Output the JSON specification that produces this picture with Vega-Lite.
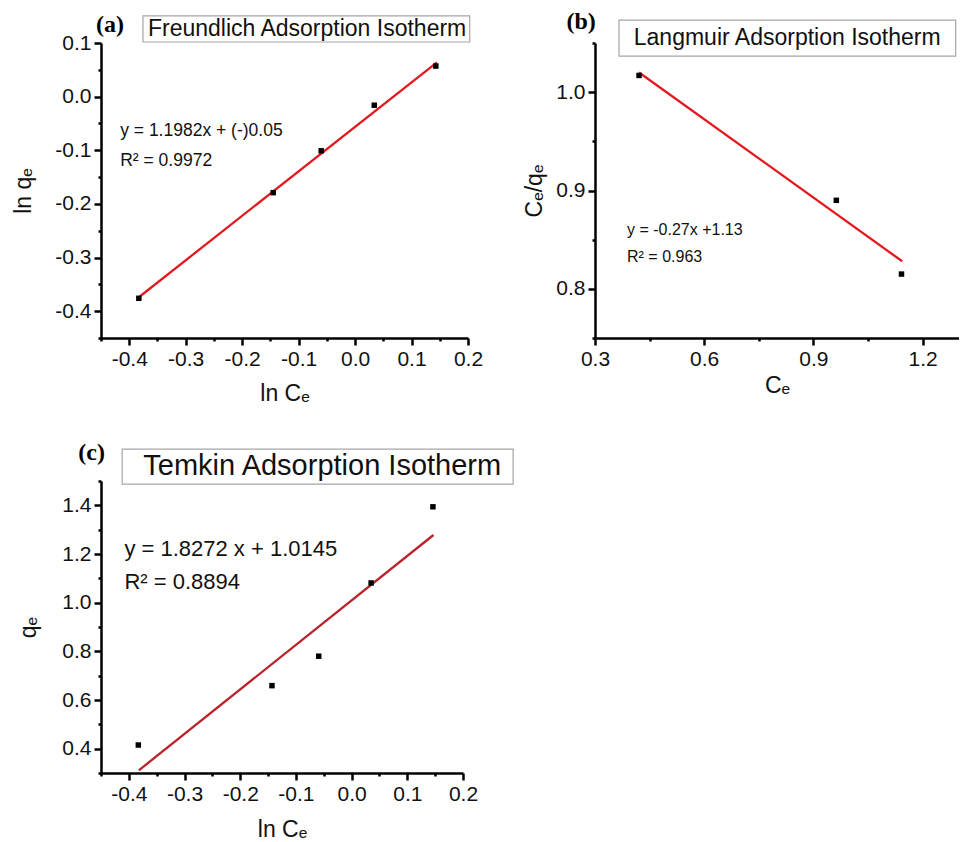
{
  "$schema": "https://vega.github.io/schema/vega-lite/v6.json",
  "background": "white",
  "padding": {"left": 12, "top": 10, "right": 0, "bottom": 0},
  "bounds": "flush",
  "columns": 2,
  "spacing": {"row": 143, "column": 127},
  "datasets": {
    "a_pts": [{"x": -0.383, "y": -0.376}, {"x": -0.145, "y": -0.179}, {"x": -0.06, "y": -0.101}, {"x": 0.034, "y": -0.016}, {"x": 0.143, "y": 0.057}],
    "a_fit": [{"x": -0.383, "y": -0.374}, {"x": 0.145, "y": 0.064}],
    "b_pts": [{"x": 0.421, "y": 1.017}, {"x": 0.963, "y": 0.89}, {"x": 1.142, "y": 0.815}],
    "b_fit": [{"x": 0.421, "y": 1.02}, {"x": 1.144, "y": 0.828}],
    "c_pts": [{"x": -0.383, "y": 0.415}, {"x": -0.143, "y": 0.659}, {"x": -0.059, "y": 0.78}, {"x": 0.035, "y": 1.081}, {"x": 0.146, "y": 1.394}],
    "c_fit": [{"x": -0.382, "y": 0.311}, {"x": 0.147, "y": 1.278}],
    "one": [{}]
  },
  "config": {
    "view": {"stroke": null},
    "axis": {
      "grid": false,
      "tickCount": 40,
      "domainColor": "#000",
      "domainWidth": 2.5,
      "tickColor": "#000",
      "tickWidth": 2.5,
      "labelFont": "Liberation Sans",
      "labelFontSize": 21,
      "labelColor": "#111",
      "labelPadding": 3,
      "labelOverlap": false,
      "labelFlush": false,
      "labelBound": false,
      "titleFont": "Liberation Sans",
      "titleFontSize": 23,
      "titleFontWeight": "normal",
      "titleColor": "#111"
    },
    "text": {"font": "Liberation Sans", "color": "#111"}
  },
  "concat": [
    {
      "width": 367,
      "height": 295,
      "layer": [
        {
          "data": {"name": "a_fit"},
          "mark": {"type": "line", "color": "#e3191f", "strokeWidth": 2.3},
          "encoding": {
            "x": {"field": "x", "type": "quantitative", "scale": {"domain": [-0.45, 0.2], "nice": false, "zero": false},
              "axis": {"title": "ln Cₑ", "titlePadding": 13, "tickCount": 40,
                "values": [-0.45, -0.4, -0.35, -0.3, -0.25, -0.2, -0.15, -0.1, -0.05, 0, 0.05, 0.1, 0.15, 0.2],
                "labelExpr": "abs(datum.value*10 - round(datum.value*10)) < 0.001 ? (datum.value < -0.001 ? '-' : '') + format(abs(datum.value), '.1f') : ''",
                "tickSize": {"condition": {"test": "abs(datum.value*10 - round(datum.value*10)) < 0.001", "value": 7}, "value": 3}}},
            "y": {"field": "y", "type": "quantitative", "scale": {"domain": [-0.45, 0.1], "nice": false, "zero": false},
              "axis": {"title": "ln qₑ", "titlePadding": 19, "tickCount": 40,
                "values": [-0.45, -0.4, -0.35, -0.3, -0.25, -0.2, -0.15, -0.1, -0.05, 0, 0.05, 0.1],
                "labelExpr": "abs(datum.value*10 - round(datum.value*10)) < 0.001 ? (datum.value < -0.001 ? '-' : '') + format(abs(datum.value), '.1f') : ''",
                "tickSize": {"condition": {"test": "abs(datum.value*10 - round(datum.value*10)) < 0.001", "value": 7}, "value": 3}}}
          }
        },
        {
          "data": {"name": "a_pts"},
          "mark": {"type": "square", "size": 30, "color": "#000", "opacity": 1},
          "encoding": {"x": {"field": "x", "type": "quantitative"}, "y": {"field": "y", "type": "quantitative"}}
        },
        {
          "data": {"name": "one"},
          "mark": {"type": "rect", "fill": "white", "fillOpacity": 0, "stroke": "#a6a6a6", "strokeWidth": 1.2},
          "encoding": {"x": {"datum": -0.3757, "type": "quantitative"}, "x2": {"datum": 0.2031}, "y": {"datum": 0.1504, "type": "quantitative"}, "y2": {"datum": 0.1019}}
        },
        {
          "data": {"name": "one"},
          "mark": {"type": "text", "text": "Freundlich Adsorption Isotherm", "fontSize": 23, "align": "center", "baseline": "middle"},
          "encoding": {"x": {"datum": -0.085, "type": "quantitative"}, "y": {"datum": 0.126, "type": "quantitative"}}
        },
        {
          "data": {"name": "one"},
          "mark": {"type": "text", "text": "(a)", "font": "Liberation Serif", "fontWeight": "bold", "fontSize": 24, "align": "center", "baseline": "middle", "color": "#000"},
          "encoding": {"x": {"datum": -0.434, "type": "quantitative"}, "y": {"datum": 0.1336, "type": "quantitative"}}
        },
        {
          "data": {"name": "one"},
          "mark": {"type": "text", "text": "y = 1.1982x + (-)0.05", "fontSize": 17.5, "align": "left", "baseline": "middle"},
          "encoding": {"x": {"datum": -0.416, "type": "quantitative"}, "y": {"datum": -0.0634, "type": "quantitative"}}
        },
        {
          "data": {"name": "one"},
          "mark": {"type": "text", "text": "R² = 0.9972", "fontSize": 17.5, "align": "left", "baseline": "middle"},
          "encoding": {"x": {"datum": -0.416, "type": "quantitative"}, "y": {"datum": -0.1194, "type": "quantitative"}}
        }
      ]
    },
    {
      "width": 364,
      "height": 295,
      "layer": [
        {
          "data": {"name": "b_fit"},
          "mark": {"type": "line", "color": "#e3191f", "strokeWidth": 2.3},
          "encoding": {
            "x": {"field": "x", "type": "quantitative", "scale": {"domain": [0.3, 1.3], "nice": false, "zero": false},
              "axis": {"title": "Cₑ", "titlePadding": 5, "tickCount": 40,
                "values": [0.3, 0.45, 0.6, 0.75, 0.9, 1.05, 1.2],
                "labelExpr": "abs(datum.value/0.3 - round(datum.value/0.3)) < 0.001 ? format(datum.value, '.1f') : ''",
                "tickSize": {"condition": {"test": "abs(datum.value/0.3 - round(datum.value/0.3)) < 0.001", "value": 7}, "value": 3}}},
            "y": {"field": "y", "type": "quantitative", "scale": {"domain": [0.75, 1.05], "nice": false, "zero": false},
              "axis": {"title": "Cₑ/qₑ", "titlePadding": 9, "tickCount": 40,
                "values": [0.75, 0.8, 0.85, 0.9, 0.95, 1.0, 1.05],
                "labelExpr": "abs(datum.value*10 - round(datum.value*10)) < 0.001 ? format(datum.value, '.1f') : ''",
                "tickSize": {"condition": {"test": "abs(datum.value*10 - round(datum.value*10)) < 0.001", "value": 7}, "value": 3}}}
          }
        },
        {
          "data": {"name": "b_pts"},
          "mark": {"type": "square", "size": 30, "color": "#000", "opacity": 1},
          "encoding": {"x": {"field": "x", "type": "quantitative"}, "y": {"field": "y", "type": "quantitative"}}
        },
        {
          "data": {"name": "one"},
          "mark": {"type": "rect", "fill": "white", "fillOpacity": 0, "stroke": "#a6a6a6", "strokeWidth": 1.2},
          "encoding": {"x": {"datum": 0.366, "type": "quantitative"}, "x2": {"datum": 1.291}, "y": {"datum": 1.0732, "type": "quantitative"}, "y2": {"datum": 1.0366}}
        },
        {
          "data": {"name": "one"},
          "mark": {"type": "text", "text": "Langmuir Adsorption Isotherm", "fontSize": 23, "align": "center", "baseline": "middle"},
          "encoding": {"x": {"datum": 0.828, "type": "quantitative"}, "y": {"datum": 1.055, "type": "quantitative"}}
        },
        {
          "data": {"name": "one"},
          "mark": {"type": "text", "text": "(b)", "font": "Liberation Serif", "fontWeight": "bold", "fontSize": 24, "align": "center", "baseline": "middle", "color": "#000"},
          "encoding": {"x": {"datum": 0.262, "type": "quantitative"}, "y": {"datum": 1.071, "type": "quantitative"}}
        },
        {
          "data": {"name": "one"},
          "mark": {"type": "text", "text": "y = -0.27x +1.13", "fontSize": 16, "align": "left", "baseline": "middle"},
          "encoding": {"x": {"datum": 0.388, "type": "quantitative"}, "y": {"datum": 0.8596, "type": "quantitative"}}
        },
        {
          "data": {"name": "one"},
          "mark": {"type": "text", "text": "R² = 0.963", "fontSize": 16, "align": "left", "baseline": "middle"},
          "encoding": {"x": {"datum": 0.388, "type": "quantitative"}, "y": {"datum": 0.8321, "type": "quantitative"}}
        }
      ]
    },
    {
      "width": 362,
      "height": 292,
      "layer": [
        {
          "data": {"name": "c_fit"},
          "mark": {"type": "line", "color": "#bb2229", "strokeWidth": 2.3},
          "encoding": {
            "x": {"field": "x", "type": "quantitative", "scale": {"domain": [-0.45, 0.2], "nice": false, "zero": false},
              "axis": {"title": "ln Cₑ", "titlePadding": 14, "tickCount": 40,
                "values": [-0.45, -0.4, -0.35, -0.3, -0.25, -0.2, -0.15, -0.1, -0.05, 0, 0.05, 0.1, 0.15, 0.2],
                "labelExpr": "abs(datum.value*10 - round(datum.value*10)) < 0.001 ? (datum.value < -0.001 ? '-' : '') + format(abs(datum.value), '.1f') : ''",
                "tickSize": {"condition": {"test": "abs(datum.value*10 - round(datum.value*10)) < 0.001", "value": 7}, "value": 3}}},
            "y": {"field": "y", "type": "quantitative", "scale": {"domain": [0.3, 1.5], "nice": false, "zero": false},
              "axis": {"title": "qₑ", "titlePadding": 21, "tickCount": 40,
                "values": [0.3, 0.4, 0.5, 0.6, 0.7, 0.8, 0.9, 1.0, 1.1, 1.2, 1.3, 1.4, 1.5],
                "labelExpr": "abs(datum.value*5 - round(datum.value*5)) < 0.001 ? format(datum.value, '.1f') : ''",
                "tickSize": {"condition": {"test": "abs(datum.value*5 - round(datum.value*5)) < 0.001", "value": 7}, "value": 3}}}
          }
        },
        {
          "data": {"name": "c_pts"},
          "mark": {"type": "square", "size": 30, "color": "#000", "opacity": 1},
          "encoding": {"x": {"field": "x", "type": "quantitative"}, "y": {"field": "y", "type": "quantitative"}}
        },
        {
          "data": {"name": "one"},
          "mark": {"type": "rect", "fill": "white", "fillOpacity": 0, "stroke": "#a6a6a6", "strokeWidth": 1.2},
          "encoding": {"x": {"datum": -0.412, "type": "quantitative"}, "x2": {"datum": 0.29}, "y": {"datum": 1.631, "type": "quantitative"}, "y2": {"datum": 1.487}}
        },
        {
          "data": {"name": "one"},
          "mark": {"type": "text", "text": "Temkin Adsorption Isotherm", "fontSize": 29, "align": "left", "baseline": "middle"},
          "encoding": {"x": {"datum": -0.374, "type": "quantitative"}, "y": {"datum": 1.561, "type": "quantitative"}}
        },
        {
          "data": {"name": "one"},
          "mark": {"type": "text", "text": "(c)", "font": "Liberation Serif", "fontWeight": "bold", "fontSize": 24, "align": "center", "baseline": "middle", "color": "#000"},
          "encoding": {"x": {"datum": -0.4668, "type": "quantitative"}, "y": {"datum": 1.617, "type": "quantitative"}}
        },
        {
          "data": {"name": "one"},
          "mark": {"type": "text", "text": "y = 1.8272 x + 1.0145", "fontSize": 22, "align": "left", "baseline": "middle"},
          "encoding": {"x": {"datum": -0.408, "type": "quantitative"}, "y": {"datum": 1.2205, "type": "quantitative"}}
        },
        {
          "data": {"name": "one"},
          "mark": {"type": "text", "text": "R² = 0.8894", "fontSize": 22, "align": "left", "baseline": "middle"},
          "encoding": {"x": {"datum": -0.408, "type": "quantitative"}, "y": {"datum": 1.085, "type": "quantitative"}}
        }
      ]
    }
  ]
}
